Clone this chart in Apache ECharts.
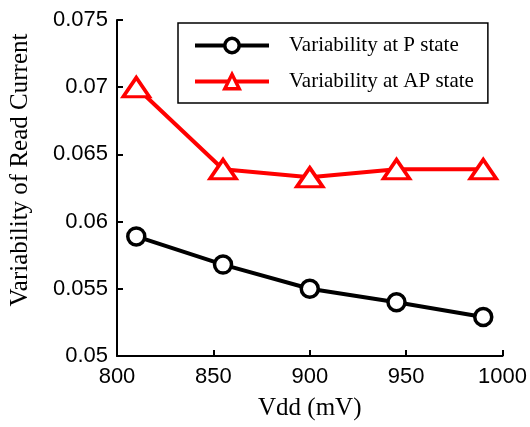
<!DOCTYPE html>
<html>
<head>
<meta charset="utf-8">
<script src="https://cdn.jsdelivr.net/npm/echarts@6/dist/echarts.min.js"></script>
<style>html,body{margin:0;padding:0;background:#fff}#c{width:530px;height:427px}</style>
</head>
<body>
<div id="c"></div>
<script>
const vdd = [810, 855, 900, 945, 990];
const pState = [0.0589, 0.0568, 0.0550, 0.0540, 0.0529];
const apState = [0.0700, 0.0639, 0.0633, 0.0639, 0.0639];
const seriesNames = ['Variability at P state', 'Variability at AP state'];
const xTitle = 'Vdd (mV)';
const yTitle = 'Variability of Read Current';

const chart = echarts.init(document.getElementById('c'), null, {renderer: 'canvas'});
const tickFont = {fontFamily: 'Liberation Sans, Arial, sans-serif', fontSize: 22, color: '#000'};
const serif = 'Liberation Serif, Times New Roman, serif';
chart.setOption({
  animation: false,
  backgroundColor: '#fff',
  grid: {left: 117, right: 26, top: 20, bottom: 71, containLabel: false},
  graphic: [{
    type: 'text', x: 20, y: 170, rotation: Math.PI / 2,
    style: {text: yTitle, font: '25px ' + serif, fill: '#000', align: 'center', verticalAlign: 'middle'}
  }],
  legend: {
    left: 178, top: 23, orient: 'vertical',
    itemWidth: 74, itemHeight: 18, itemGap: 15,
    padding: [12, 14, 11, 15],
    borderColor: '#000', borderWidth: 1.5, backgroundColor: '#fff',
    lineStyle: {width: 4},
    itemStyle: {borderWidth: 3.5},
    textStyle: {fontFamily: serif, fontSize: 21, color: '#000', lineHeight: 20, padding: [0, 0, 0, 15]},
    data: seriesNames
  },
  xAxis: {
    type: 'value', min: 800, max: 1000, interval: 50,
    name: xTitle, nameLocation: 'middle', nameGap: 40, nameTextStyle: {fontFamily: serif, fontSize: 25, color: '#000'},
    axisLine: {show: true, lineStyle: {color: '#000', width: 2}},
    axisTick: {show: true, inside: true, length: 6, lineStyle: {color: '#000', width: 2}},
    axisLabel: Object.assign({margin: 10, formatter: v => String(v)}, tickFont),
    splitLine: {show: false}
  },
  yAxis: {
    type: 'value', min: 0.05, max: 0.075, interval: 0.005,
    axisLine: {show: true, lineStyle: {color: '#000', width: 2}},
    axisTick: {show: true, inside: true, length: 6, lineStyle: {color: '#000', width: 2}},
    axisLabel: Object.assign({margin: 9, formatter: v => String(parseFloat(v.toFixed(4)))}, tickFont),
    splitLine: {show: false}
  },
  series: [
    {
      name: seriesNames[0], type: 'line',
      data: vdd.map((x, i) => [x, pState[i]]),
      symbol: 'circle', symbolSize: 17,
      lineStyle: {color: '#000', width: 4},
      itemStyle: {color: '#fff', borderColor: '#000', borderWidth: 3.5},
      color: '#000'
    },
    {
      name: seriesNames[1], type: 'line',
      data: vdd.map((x, i) => [x, apState[i]]),
      symbol: 'triangle', symbolSize: [26, 19],
      lineStyle: {color: '#f00', width: 4},
      itemStyle: {color: '#fff', borderColor: '#f00', borderWidth: 3.5},
      color: '#f00'
    }
  ]
});
</script>
</body>
</html>
